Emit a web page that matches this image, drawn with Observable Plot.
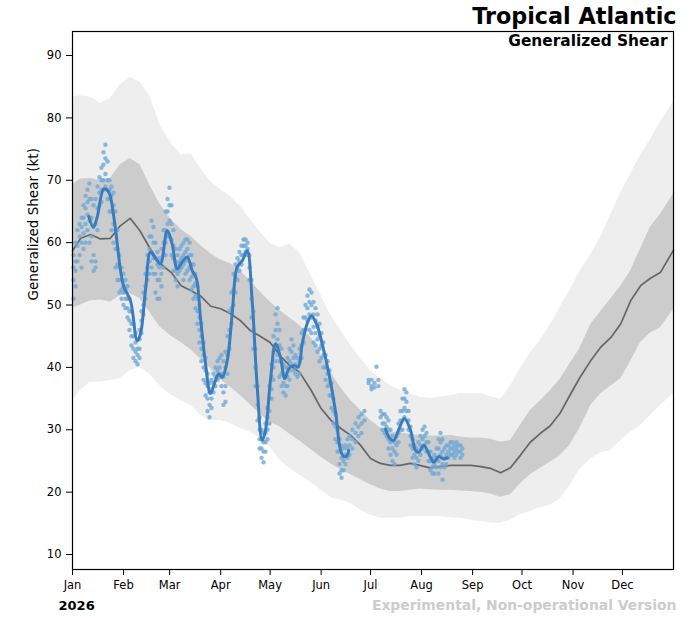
<!DOCTYPE html>
<html><head><meta charset="utf-8">
<script src="https://cdn.jsdelivr.net/npm/d3@7"></script>
<script src="https://cdn.jsdelivr.net/npm/@observablehq/plot@0.6"></script>
<style>body{margin:0;background:#fff} svg{display:block}</style>
</head><body><div id="chart"></div>
<script>
const titleText = "Tropical Atlantic";
const subtitleText = "Generalized Shear";
const yLabelText = "Generalized Shear (kt)";
const yearText = "2026";
const noteText = "Experimental, Non-operational Version";

const monthLabels = ["Jan","Feb","Mar","Apr","May","Jun","Jul","Aug","Sep","Oct","Nov","Dec"];
const monthStartDays = [0,31,59,90,120,151,181,212,243,273,304,334];
const yTicks = [10,20,30,40,50,60,70,80,90];

// climatology (day of year)
const climDays = [0,5,11,17,23,29,35,41,47,53,60,66,72,78,84,90,96,102,108,114,120,126,132,138,145,151,157,163,169,175,181,187,193,199,205,211,217,223,230,236,242,248,254,260,266,272,278,284,290,296,302,308,315,321,327,333,339,345,351,357,365];
const outerHigh = [83.3,83.6,83.3,82.3,83.1,85.3,86.5,85.7,83.5,79,75.9,74.1,74.2,71.8,69.8,68.5,67.4,65.8,63.7,61.7,59.9,59.2,59.8,58.4,54.7,51.5,48.3,45.9,43.5,41.4,39.5,38.2,37.1,36.3,35.8,35.2,35,35.2,35.5,35.8,35.8,35.8,35.3,34.9,37,39.8,42.3,44.3,46.7,49.6,52.3,55.3,58.2,61,64.5,68,71,74,76.5,79.3,82.5];
const outerLow = [34.7,36.3,37.6,37.6,37.9,38.2,39.5,40,38.9,37.1,35.5,34.7,33.9,32.3,31.5,31.5,31,30.2,29.6,28.6,27.2,25.1,23.8,22.7,21.5,20.3,19.1,18.7,18.2,17.1,16.3,15.8,15.8,15.8,16.1,16.1,16.1,16.1,15.9,15.8,15.5,15.3,15.1,15,15.5,16.4,16.9,17.5,17.9,18.9,21,23.6,25.4,26.3,26.7,28.3,29.6,30.7,32.3,33.9,35.8];
const innerHigh = [69.3,70.2,70.3,70,70.3,72.5,73.5,72.5,69.2,66.2,63.7,62.1,61,59.5,58.2,57.2,56.6,55.4,53.9,52.1,50.5,49.1,47.9,46.7,44.7,41.9,39.1,36.7,34.7,33.1,31.5,30.3,29.7,29.5,29.3,29.1,29,29,29.1,28.8,28.7,28.7,28.5,28,28.3,30.7,33.1,34.6,36.2,38,40.5,43,47,49,51,53,55.5,59,62.5,64.5,67.8];
const innerLow = [49.5,50,50.7,50.8,50.5,51.5,51.8,51,48.8,46.5,45,44,42.8,41.3,39.8,38,36.8,35.5,34,32.5,31.2,30.5,29.3,28.2,26.8,25.6,24.5,23.6,22.8,22,21.2,20.5,20.1,20.1,20.3,20.5,20.4,20.3,20.3,20.2,20.1,20,19.7,19.2,19.6,21.3,22.8,23.8,24.8,25.8,27.5,30.2,34,35.8,37,38.2,41,44,45.5,46.3,49.3];
const median = [58.7,60.7,61.3,60.6,60.7,62.7,63.9,61.9,59.1,56.7,55.2,53.1,52.3,51.4,49.8,49.4,48.6,47.5,45.9,45,44,41.9,40.3,39.2,36.3,33.4,31.5,30.2,29.1,27.5,25.4,24.6,24.3,24.3,24.6,24.3,23.9,24.1,24.3,24.3,24.3,24.1,23.8,23.1,23.9,25.9,28,29.4,30.6,32.6,35.5,38.3,41.2,43.3,44.8,47,50.7,53.1,54.3,55.2,58.8];

// 2026 smoothed series (null = gap)
const obsDays = [9.9,12.6,15,19,22,25.1,29.2,31.2,35.2,39.3,41.3,44.3,47.4,50.4,53.4,57.5,60.5,63.6,66.6,69.7,72.7,75.3,77.7,80.8,83.8,86.8,88.8,90.9,94,97,100,103.1,106.1,109.1,112.2,115.2,117.2,120.2,123.3,126.3,128.9,131.4,134.4,137.1,139.5,142.5,145.1,148.6,151.6,155.7,159.7,162.8,164.8,166.8,167.8,179,190.1,193.1,195.1,198.2,201.6,205.3,208.3,210.3,213.3,217.4,219.4,222.5,225.5,227.6];
const obsSmooth = [64.2,62.5,64.1,68.6,68.1,64.1,55.5,52.9,50.7,44.3,45.4,52.3,58.5,57.5,56.6,61.9,59.8,55.8,56.9,57.7,55.5,54.2,48,40.6,35.8,37.9,39,38.4,41.1,48.6,56.1,57.1,58.7,50.7,36.8,28.3,29.9,37.9,43.8,41.6,38.2,39.8,40.3,40.1,43.8,47,48.3,46.7,43.8,39,33,26.7,25.7,25.9,26.7,null,30.1,28.5,28.3,30.1,31.8,29.9,26.7,26.4,27.5,25.6,24.8,25.7,25.3,25.5];

// 2026 individual analyses: one column of values per day position
const dotDays = [0.6,1.8,3.0,4.3,5.5,6.7,7.9,9.1,10.3,11.5,12.8,14.0,15.2,16.4,17.6,18.8,20.0,21.3,22.5,23.7,24.9,26.1,27.3,28.5,29.8,31.0,32.2,33.4,34.6,35.8,37.0,38.3,39.5,40.7,41.9,43.1,44.3,45.5,46.8,48.0,49.2,50.4,51.6,52.8,54.0,55.3,56.5,57.7,58.9,60.1,61.3,62.6,63.8,65.0,66.2,67.4,68.6,69.8,71.1,72.3,73.5,74.7,75.9,77.1,78.3,79.6,80.8,82.0,83.2,84.4,85.6,86.8,88.1,89.3,90.5,91.7,92.9,94.1,95.3,96.6,97.8,99.0,100.2,101.4,102.6,103.9,105.1,106.3,107.5,108.7,109.9,111.1,112.4,113.6,114.8,116.0,117.2,118.4,119.6,120.9,122.1,123.3,124.5,125.7,126.9,128.1,129.4,130.6,131.8,133.0,134.2,135.4,136.6,137.9,139.1,140.3,141.5,142.7,143.9,145.1,146.4,147.6,148.8,150.0,151.2,152.4,153.7,154.9,156.1,157.3,158.5,159.7,160.9,162.2,163.4,164.6,165.8,167.0,168.2,170.0,171.9,173.7,175.5,177.3,179.8,181.6,183.4,184.6,185.8,187.1,188.3,189.5,190.7,191.9,193.1,194.3,195.6,196.8,198.0,199.2,200.4,201.6,202.8,204.1,205.3,206.5,207.7,208.9,210.1,211.3,212.6,213.8,215.0,216.2,217.4,218.6,219.8,221.1,222.3,223.5,224.7,225.9,227.1,228.3,229.6,230.8,232.0,233.2,234.4,235.6,236.8];
const dotValues = [
[58,56,54,51],[60,57,55.5,53],[62,59.5,57],[63,61,58],[64,62.5,60,56],[66,64,61.5,59],[67.5,65.5,63,60],[68.5,66.5,64.5,62],[69.5,67,63.5,60],[67,64,61,57],
[66,62.5,58,55.5],[67,63,56,57],[69,65.5,62],[70.5,68,66],[72,70,68.5,66.5],[74.5,72.5,70,68.5],[75.7,73.5,71,69],[73,70,68.5,67],[70,68.5,67,65],[69,67.5,65,62],
[68,66,63,60],[65,62,59,56],[62,59,56.5,54],[58,56,54,52],[56,54,52.5,51],[55,53,52,50],[54,52.5,51,49.5],[53,51,49.5,48],[51,49,47.5,46],[49,47,45,43.5],
[47,45,43,41.5],[45.5,44,42.5,41],[44.5,43,42,40.5],[46,44.5,43,41.5],[49,47.5,45.5],[52,50,48.5],[55,53,51],[58,56,54],[61,59,57,55],[63.5,61,58.5,56],
[62.5,60,57.5,55],[60,57.5,55,52],[58.5,56.5,54,51],[57.5,56,54,51],[59,57,55,53],[62,60,58,56],[65,62,60,58],[67,65,63,61],[68.8,66,63.5,61],[66,63,60.5,58],
[62,59.5,57.5,55.5],[59,57,55.5,54],[58,56.5,55,53],[59,57,55.5],[59.5,57.5,56],[60,58,56.5,54],[60.5,58.5,57,55],[60.5,59,57.5,55.5],[60,58,56,54],[58,56.5,54.5,52.5],
[56.5,55,53,51],[55,53.5,51.5,49.5],[53,51,49,47],[50,48,46,44],[47,45,43,41],[44,42,40,38],[41.5,39.5,37.5,35.5],[39,37,35,33],[37.5,36,34,32],[38,36.5,35,33.5],
[39,37.5,36],[40,38.5,37],[41,39.5,38],[41.5,40,38.5],[42,39,37],[41,38.5,36,34],[42.5,40,37,34.5],[45,42,39],[49,46,43],[52,49.5,47],
[55,52.5,50],[56.5,54.5,52],[57.5,56,54],[58.5,57,55.5],[59.5,58,56.5],[60.5,59.5,58],[60.5,59.5,58.5],[60,59,58],[58,56,54],[54,51,48],
[49,46,43],[43,40,37],[37,34,31.5],[32,30,28.5,27],[30,28.5,27,25.5],[29.5,28,26.5,24.8],[31,29.5,28,26.5],[33.5,32,30,28.5],[37,35,33,31],[40.5,38.5,36.5,35],
[45,42.5,40,38],[48.5,46,43.5,41],[49.5,47,44.5,42],[46,43.5,41,38.5],[43,41,39,37],[40.5,39,37.5,36],[40,38.5,37,35.5],[41.5,40,38.5,37],[43,41,39.5,38],[44.5,42.5,40.5],
[43.5,41.5,39.5],[42,40.5,39],[41.5,40,38.5],[43,41,39],[45.5,43.5,41.5],[48,46,44],[50,48,46],[51.5,49.5,47.5],[52.5,50.5,48.5,46],[52,50,48,45.5],
[50.5,48.5,46.5,44],[49.5,47.5,45.5,43.5],[48.5,46.5,44.5,42.5],[47,45,43,41],[45.5,43.5,41.5],[44,42,40],[42,40,38],[41,39,37],[39.5,37.5,35.5],[37.5,35.5,33.5],
[35,33,31],[32.5,30.5,28.5],[30,28,26.5],[28.5,26.5,24.5,23],[27.5,25.5,23.5,22.3],[27,25,23.5],[27.5,26,24.5],[28.5,27,25.5],[29,27.5,26],[30,28.5,27],
[31,29.5,28],[32,30.5,29],[32.5,31,29.5],[33,31.5],[38,37.5],[38,37,36.5],[37.5,36.8],[40.1],[38,37],[33,32],
[32.5,31,30],[32.5,31,29.5],[32,30.5,29],[31.5,30,28.5,27],[30,28,26],[29,27,25],[28,26.5,24.5],[29,27.5,26],[31,29.5,28],[33,31.5,30],
[35,33,31.5,30],[36.5,35,33.5,32],[36,34.5,33],[33,31.5,30],[30.5,29,27.5],[28.5,27,25.5],[27.5,26,24.5],[27,25.5,24],[28,26.5,25],[29,27.5,26],
[30,28.5,27],[30.5,29,27.5],[29.5,28,26.5],[28,26.5,25],[26.5,25,23.5],[25.5,24,23],[26,24.5,23],[27,25.5,24],[28.5,27,25,23],[29.5,28,26,24],
[28.5,26.5,24.5,22],[27,25.5,24],[27.5,26,24.5],[27.5,26.5,25.5],[28,27,26],[28,27,26],[27.5,26.5,25.5],[28,27,26],[27.5,26.5],[27.5,26.5,25.5],
[27,26]
];

const clim = climDays.map((d, i) => ({day: d, oh: outerHigh[i], ol: outerLow[i], ih: innerHigh[i], il: innerLow[i], med: median[i]}));
const obs = obsDays.map((d, i) => ({day: d, v: obsSmooth[i]}));
const dots = dotDays.flatMap((d, i) => dotValues[i].map(v => ({day: d, v})));

const chart = Plot.plot({
  width: 690, height: 618,
  marginTop: 31, marginRight: 17, marginBottom: 49, marginLeft: 72,
  style: {fontFamily: "DejaVu Sans, sans-serif", fontSize: "11.5px", background: "#fff", color: "#000"},
  x: {domain: [0, 365], label: null},
  y: {domain: [7.6, 93.85], label: null},
  marks: [
    Plot.areaY(clim, {x: "day", y1: "ol", y2: "oh", fill: "#eeeeee"}),
    Plot.areaY(clim, {x: "day", y1: "il", y2: "ih", fill: "#cccccc"}),
    Plot.line(clim, {x: "day", y: "med", stroke: "#666666", strokeWidth: 1.7}),
    Plot.dot(dots, {x: "day", y: "v", r: 2.2, fill: "#6fa7d6", fillOpacity: 0.8}),
    Plot.line(obs, {x: "day", y: "v", stroke: "#3a7dbf", strokeWidth: 3, curve: "catmull-rom"}),
    Plot.frame({stroke: "#000", strokeWidth: 1.2}),
    Plot.axisX({ticks: monthStartDays, tickFormat: d => monthLabels[monthStartDays.indexOf(d)], tickSize: 6, tickPadding: 5}),
    Plot.axisY({ticks: yTicks, tickSize: 6, tickPadding: 5}),
    Plot.text([yLabelText], {text: d => d, frameAnchor: "left", dx: -39, rotate: -90, fontSize: 13.5}),
    Plot.text([titleText], {text: d => d, frameAnchor: "top-right", dx: 3, dy: -8, textAnchor: "end", lineAnchor: "bottom", fontSize: 22.3, fontWeight: "bold"}),
    Plot.text([subtitleText], {text: d => d, frameAnchor: "top-right", dx: -6, dy: 14.5, textAnchor: "end", lineAnchor: "bottom", fontSize: 15.4, fontWeight: "bold"}),
    Plot.text([yearText], {text: d => d, frameAnchor: "bottom-left", dx: -14, dy: 40, textAnchor: "start", lineAnchor: "bottom", fontSize: 13, fontWeight: "bold"}),
    Plot.text([noteText], {text: d => d, frameAnchor: "bottom-right", dx: 3, dy: 40, textAnchor: "end", lineAnchor: "bottom", fontSize: 13.9, fontWeight: "bold", fill: "#cccccc"})
  ]
});
document.getElementById("chart").appendChild(chart);
</script>
</body></html>
